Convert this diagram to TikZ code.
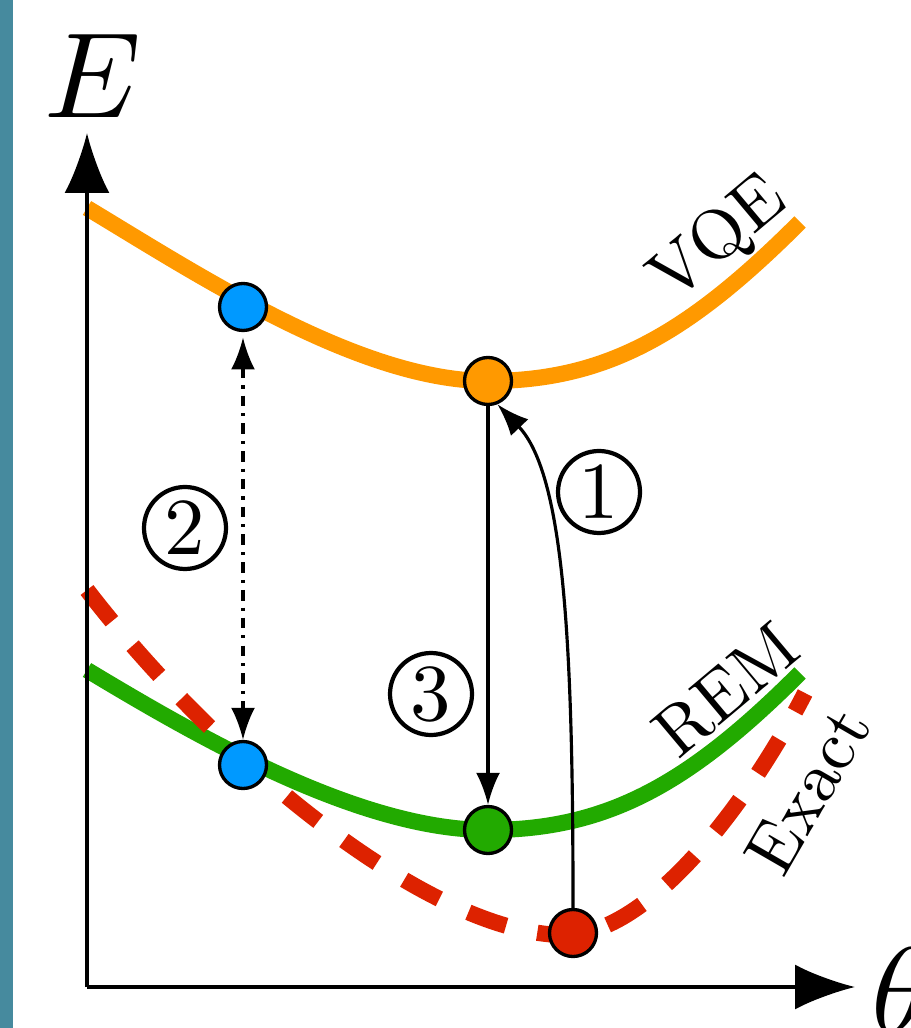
\documentclass[tikz,border=0pt]{standalone}
\usepackage{graphicx}
\usetikzlibrary{arrows.meta}

\definecolor{vqeorange}{RGB}{255,153,0}
\definecolor{remgreen}{RGB}{34,170,0}
\definecolor{exactred}{RGB}{221,34,0}
\definecolor{dotblue}{RGB}{0,153,255}
\definecolor{sidebar}{RGB}{70,138,158}

\begin{document}
\begin{tikzpicture}[x=0.1mm, y=-0.1mm,
    curva/.style={line width=4.6pt},
    ponto/.style={draw, circle, line width=0.95pt, minimum size=4.7mm, inner sep=0pt},
    numero/.style={draw, circle, line width=1.2pt, minimum size=8.2mm, inner sep=0pt},
    rotulo/.style={inner sep=0pt},
    eixo/.style={line width=0.9pt, -{Latex[length=6mm, width=4.5mm]}},
    seta/.style={line width=0.9pt, -{Latex[length=3.2mm, width=2.4mm]}}]

\useasboundingbox (0,0) rectangle (910,1028);
\fill[sidebar] (0,0) rectangle (13,1028);

% VQE curve
\draw[curva, vqeorange] (87,208) .. controls (200,276) and (360,381) .. (488,381)
    .. controls (608,381) and (690,332) .. (800,222);
% REM curve
\draw[curva, remgreen] (87,670) .. controls (200,738) and (360,830) .. (488,830)
    .. controls (608,830) and (690,783) .. (800,673);
% Exact curve
\draw[curva, exactred, dash pattern=on 4mm off 3.2mm] (87,590) .. controls (217,759) and (430,935) .. (565,935)
    .. controls (650,935) and (750,800) .. (805,693);

% axes
\coordinate (O) at (87,987);
\coordinate (ytip) at (87,133);
\coordinate (xtip) at (855,987);
\draw[eixo] (O) -- (ytip);
\draw[eixo] (O) -- (xtip);
\node[inner sep=0pt, anchor=base] (E) at (93,118) {\scalebox{3.46}{$E$}};
\node[inner sep=0pt, anchor=west] (theta) at (871,990) {\scalebox{3.46}{$\theta$}};

% curve labels
\node[rotulo, rotate=40] (vqe) at (720,240) {\scalebox{2}{VQE}};
\node[rotulo, rotate=40] (rem) at (726,690) {\scalebox{2}{REM}};
\node[rotulo, rotate=60] (exact) at (808,790) {\scalebox{2}{Exact}};

% points
\node[ponto, fill=dotblue] (bluetop) at (243,307) {};
\node[ponto, fill=vqeorange] (orange) at (488,381) {};
\node[ponto, fill=dotblue] (bluebot) at (243,765) {};
\node[ponto, fill=remgreen] (green) at (488,830) {};
\node[ponto, fill=exactred] (red) at (573,933) {};

% steps
\draw[seta] (red.north) .. controls (573,650) and (565,475) .. (orange.-68);
\draw[seta, {Latex[length=3.2mm, width=2.4mm]}-{Latex[length=3.2mm, width=2.4mm]}, dash dot, shorten <=1.5pt] (bluetop) -- (bluebot);
\draw[seta] (orange) -- (green);

\node[numero] (n1) at (599,492) {\scalebox{2.3}{1}};
\node[numero] (n2) at (185,528) {\scalebox{2.3}{2}};
\node[numero] (n3) at (431,694) {\scalebox{2.3}{3}};
\end{tikzpicture}
\end{document}
